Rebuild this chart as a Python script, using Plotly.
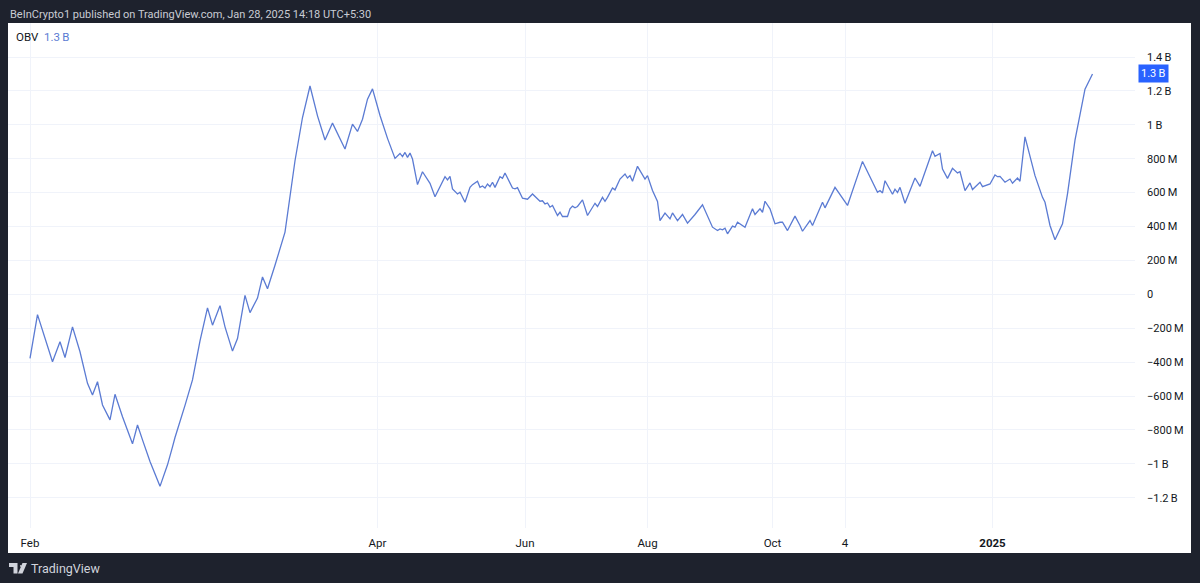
import plotly.graph_objects as go

# ---- data (bar index, OBV in millions) ----
bar_index = [0, 3, 9, 12, 14, 17, 20, 23, 25, 27, 29, 32, 34, 37, 41, 43, 45, 48, 52, 55,
             57, 58, 62, 65, 68, 71, 73, 76, 78, 81, 83, 86, 88, 91, 93, 95, 98, 102, 106, 109,
             112, 115, 118, 121, 126, 129, 131, 133, 135, 137, 140, 143, 146, 148, 149, 150, 151, 152, 153, 155,
             157, 160, 162, 164, 166, 167, 168, 169, 171, 172, 174, 176, 177, 179, 180, 181, 182, 183, 184, 185,
             186, 188, 189, 190, 193, 194, 195, 197, 199, 201, 202, 204, 205, 206, 207, 208, 209, 211, 212, 213,
             215, 216, 217, 218, 219, 221, 223, 226, 227, 229, 230, 231, 233, 234, 236, 238, 239, 240, 241, 243,
             246, 247, 249, 251, 252, 254, 256, 257, 259, 261, 263, 264, 266, 269, 271, 273, 275, 276, 277, 278,
             279, 281, 282, 283, 286, 289, 290, 292, 293, 294, 296, 298, 300, 301, 303, 306, 308, 309, 312, 313,
             317, 318, 322, 327, 333, 339, 340, 341, 342, 345, 346, 347, 348, 350, 354, 356, 361, 362, 364, 365,
             367, 369, 371, 372, 374, 376, 377, 380, 381, 382, 384, 386, 387, 388, 390, 392, 393, 395, 396, 398,
             402, 405, 406, 408, 410, 413, 415, 418, 422, 425]
obv_m = [-378, -120, -398, -280, -373, -192, -339, -525, -594, -516, -653, -741, -590, -722, -882, -771, -859, -986, -1133, -1006,
         -900, -845, -655, -505, -275, -80, -182, -67, -192, -335, -261, -6, -108, -22, 102, 33, 171, 367, 788, 1043,
         1229, 1053, 910, 1010, 857, 1004, 961, 1033, 1151, 1212, 1055, 920, 802, 831, 812, 837, 808, 833, 798, 647,
         723, 655, 576, 635, 694, 675, 696, 622, 592, 602, 543, 631, 647, 667, 631, 639, 627, 651, 635, 661,
         631, 694, 684, 716, 627, 622, 629, 567, 561, 592, 578, 549, 552, 533, 539, 514, 524, 465, 484, 459,
         459, 504, 520, 510, 518, 557, 465, 537, 518, 572, 549, 572, 627, 616, 680, 710, 686, 700, 667, 755,
         680, 700, 612, 548, 435, 479, 445, 480, 435, 471, 420, 435, 471, 528, 465, 396, 376, 386, 380, 390,
         357, 402, 396, 425, 396, 504, 471, 504, 484, 549, 504, 416, 425, 425, 376, 461, 406, 372, 435, 406,
         543, 510, 631, 524, 784, 602, 612, 598, 670, 590, 620, 600, 631, 537, 686, 637, 847, 814, 831, 739,
         684, 743, 716, 723, 612, 657, 618, 661, 635, 639, 651, 704, 694, 696, 661, 680, 655, 686, 667, 929,
         700, 572, 543, 406, 322, 416, 592, 910, 1210, 1300]

x_tick_bars = [0, 139, 198, 247, 297, 326, 385]
x_tick_labels = ["Feb", "Apr", "Jun", "Aug", "Oct", "4", "<b>2025</b>"]

y_tick_m = [-1200, -1000, -800, -600, -400, -200, 0, 200, 400, 600, 800, 1000, 1200, 1400]
y_tick_labels = ["\u22121.2\u2009B", "\u22121\u2009B", "\u2212800\u2009M", "\u2212600\u2009M", "\u2212400\u2009M",
                 "\u2212200\u2009M", "0", "200\u2009M", "400\u2009M", "600\u2009M", "800\u2009M",
                 "1\u2009B", "1.2\u2009B", "1.4\u2009B"]

indicator_name = "OBV"
last_value_label = "1.3\u2009B"
header_text = "BeInCrypto1 published on TradingView.com, Jan 28, 2025 14:18 UTC+5:30"
footer_text = "TradingView"

# ---- layout geometry (pixels) ----
W, H = 1200, 583
L, R, T, B = 8, 65, 23, 55
PW, PH = W - L - R, H - T - B
X0_PX, PX_PER_BAR = 30, 2.5
Y0_PX, PX_PER_M = 294.3, 33.9 / 200.0

def px(xp, yp):
    return (xp - L) / PW, (H - B - yp) / PH

line_color = "#5b7bd3"
dark = "#1e222d"
grid = "#f0f3fa"
font_family = "Roboto, 'Noto Sans', sans-serif"

fig = go.Figure()
fig.add_trace(go.Scatter(
    x=bar_index, y=[v * 1e6 for v in obv_m], mode="lines",
    line=dict(color=line_color, width=1.3), hoverinfo="skip", showlegend=False,
))

x_lo = (L - X0_PX) / PX_PER_BAR
x_hi = (W - R - X0_PX) / PX_PER_BAR
y_hi = (Y0_PX - T) / PX_PER_M * 1e6
y_lo = (Y0_PX - (H - B)) / PX_PER_M * 1e6

shapes = []
# white panel
p0 = px(8, 553)
p1 = px(1191, 23)
shapes.append(dict(type="rect", xref="paper", yref="paper", x0=p0[0], y0=p0[1], x1=p1[0], y1=p1[1],
                   fillcolor="white", line=dict(width=0), layer="below"))

# TradingView logo (decoration)
def path(points):
    s = ""
    for i, (a, b) in enumerate(points):
        xa, ya = px(a, b)
        s += ("M" if i == 0 else "L") + f"{xa:.5f},{ya:.5f} "
    return s + "Z"

logo_col = "#d1d4dc"
shapes.append(dict(type="path", xref="paper", yref="paper",
                   path=path([(9, 563), (17.5, 563), (17.5, 573.5), (13.5, 573.5), (13.5, 567), (9, 567)]),
                   fillcolor=logo_col, line=dict(width=0)))
c = px(20, 565)
c2 = px(21.8, 566.8)
shapes.append(dict(type="circle", xref="paper", yref="paper", x0=c[0], y0=c[1], x1=c2[0], y1=c2[1],
                   fillcolor=logo_col, line=dict(width=0)))
shapes.append(dict(type="path", xref="paper", yref="paper",
                   path=path([(22.5, 563), (27, 563), (22.5, 573.5), (18, 573.5)]),
                   fillcolor=logo_col, line=dict(width=0)))

annotations = []
hx, hy = px(8, 14.5)
annotations.append(dict(xref="paper", yref="paper", x=hx, y=hy, xanchor="left", yanchor="middle",
                        text=header_text, showarrow=False,
                        font=dict(family=font_family, size=11, color="#c9ccd4")))
fx, fy = px(29, 568)
annotations.append(dict(xref="paper", yref="paper", x=fx, y=fy, xanchor="left", yanchor="middle",
                        text=footer_text, showarrow=False,
                        font=dict(family=font_family, size=12.5, color="#d1d4dc")))
lx, ly = px(14, 37)
annotations.append(dict(xref="paper", yref="paper", x=lx, y=ly, xanchor="left", yanchor="middle",
                        text=f"{indicator_name}&nbsp;&nbsp;<span style='color:{line_color}'>{last_value_label}</span>",
                        showarrow=False, font=dict(family=font_family, size=11.5, color="#131722")))
bx, _ = px(1138, 0)
annotations.append(dict(xref="paper", yref="y", x=bx, y=obv_m[-1] * 1e6, xanchor="left", yanchor="middle",
                        text=last_value_label, showarrow=False, bgcolor="#2962ff", borderpad=2,
                        font=dict(family=font_family, size=11, color="white")))

fig.update_layout(
    width=W, height=H, autosize=False,
    margin=dict(l=L, r=R, t=T, b=B, pad=0),
    paper_bgcolor=dark, plot_bgcolor="white",
    shapes=shapes, annotations=annotations,
    hovermode=False, showlegend=False,
    font=dict(family=font_family, size=12, color="#131722"),
    xaxis=dict(range=[x_lo, x_hi], tickmode="array", tickvals=x_tick_bars, ticktext=x_tick_labels,
               showgrid=True, gridcolor=grid, gridwidth=1, zeroline=False, showline=False,
               ticks="", ticklabelstandoff=6, fixedrange=True,
               tickfont=dict(family=font_family, size=11.5, color="#131722")),
    yaxis=dict(range=[y_lo, y_hi], side="right", tickmode="array",
               tickvals=[v * 1e6 for v in y_tick_m], ticktext=y_tick_labels,
               showgrid=True, gridcolor=grid, gridwidth=1, zeroline=False, showline=False,
               ticks="", ticklabelstandoff=11, fixedrange=True,
               tickfont=dict(family=font_family, size=11, color="#131722")),
)

fig.write_html(
    "out.html",
    config={"displayModeBar": False},
    post_script="document.body.style.margin='0';document.body.style.overflow='hidden';"
                "document.body.style.background='" + dark + "';",
)
